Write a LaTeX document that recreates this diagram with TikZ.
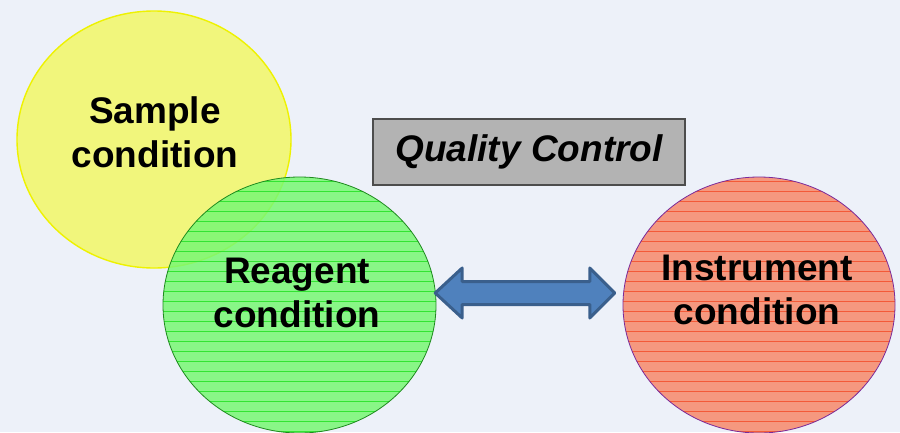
\documentclass[tikz,border=0pt]{standalone}
\usepackage{fontspec}
\setmainfont{Liberation Sans}
\usetikzlibrary{shapes.geometric,calc}
\definecolor{bgcol}{HTML}{EDF1F9}
\definecolor{yfill}{HTML}{F1F67C}
\definecolor{yedge}{HTML}{EEF200}
\definecolor{gfill}{HTML}{78F874}
\definecolor{gline}{HTML}{33E433}
\definecolor{gedge}{HTML}{1E8A1E}
\definecolor{rfill}{HTML}{F5987F}
\definecolor{rline}{HTML}{F35A38}
\definecolor{redge}{HTML}{7A2A9A}
\definecolor{boxfill}{HTML}{B3B3B3}
\definecolor{boxedge}{HTML}{4D4D4D}
\definecolor{arrfill}{HTML}{4F81BD}
\definecolor{arredge}{HTML}{3A5F8C}
% horizontal ruling inside an ellipse: node, colour, half width, half height
\newcommand\ruled[4]{%
  \begin{scope}
    \clip (#1.center) ellipse [x radius=#3, y radius=#4];
    \foreach \k in {0,...,27}
      \fill[#2]
        ($(#1.center)+(-#3,-#4+3.6+\k*10)$) rectangle ($(#1.center)+(#3,-#4+4.6+\k*10)$);
  \end{scope}}
\tikzset{
  x=1pt, y=-1pt,
  blob/.style={ellipse, inner sep=0pt},
  label text/.style={font=\fontsize{37}{44}\selectfont\bfseries, align=center, text=black, inner sep=0pt},
}
\begin{document}
\begin{tikzpicture}
  \fill[bgcol] (0,0) rectangle (900,432);
  \useasboundingbox (0,0) rectangle (900,432);

  % the three overlapping conditions
  \node[blob, minimum width=274pt, minimum height=257pt,
        fill=yfill, draw=yedge, line width=1.4pt] (S) at (154,139.5) {};

  \node[blob, minimum width=273pt, minimum height=256pt,
        fill=gfill, fill opacity=0.85] (R) at (299.5,305) {};
  \ruled{R}{gline}{136.5}{128}
  \draw[gedge, line width=0.8pt] (R.center) ellipse [x radius=136.5, y radius=128];

  \node[blob, minimum width=272pt, minimum height=256pt,
        fill=rfill] (I) at (759,305) {};
  \ruled{I}{rline}{136}{128}
  \draw[redge, line width=0.8pt] (I.center) ellipse [x radius=136, y radius=128];

  \node[label text] (St) at (155,132.5) {Sample\\condition};
  \node[label text] (Rt) at (297,293) {Reagent\\condition};
  \node[label text] (It) at (757,290) {Instrument\\condition};

  % title box
  \node[draw=boxedge, fill=boxfill, line width=1.5pt,
        minimum width=312pt, minimum height=66pt,
        font=\fontsize{37}{44}\selectfont\bfseries\itshape] (QC) at (529,152) {Quality Control};

  % two-headed arrow between reagent and instrument
  \coordinate (aL) at ($(R.east)+(-1,-12)$);
  \coordinate (aR) at ($(I.west)+(-8,-12)$);
  \draw[arredge, fill=arrfill, line width=3pt, line join=round]
    (aL) -- ($(aL)+(27,-25)$) -- ($(aL)+(27,-11.5)$) -- ($(aR)+(-25,-11.5)$)
    -- ($(aR)+(-25,-25)$) -- (aR) -- ($(aR)+(-25,25)$) -- ($(aR)+(-25,11.5)$)
    -- ($(aL)+(27,11.5)$) -- ($(aL)+(27,25)$) -- cycle;
\end{tikzpicture}
\end{document}
